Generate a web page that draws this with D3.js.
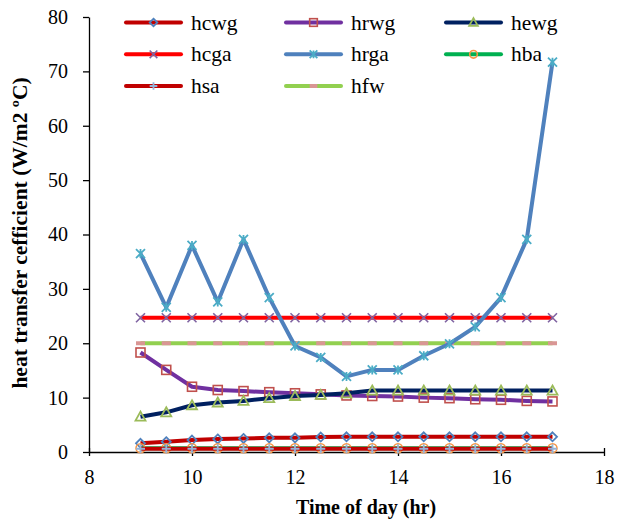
<!DOCTYPE html>
<html><head><meta charset="utf-8">
<script src="https://cdn.jsdelivr.net/npm/d3@7"></script>
<style>body{margin:0;background:#fff}svg{display:block}text{font-family:"Liberation Serif","Times New Roman",serif}</style>
</head><body>
<script>
const hours = [9,9.5,10,10.5,11,11.5,12,12.5,13,13.5,14,14.5,15,15.5,16,16.5,17];
const hcwg = [1.6,1.9,2.2,2.4,2.5,2.6,2.6,2.75,2.8,2.8,2.8,2.8,2.8,2.8,2.8,2.8,2.8];
const hrwg = [18.3,15.1,12.0,11.4,11.2,11.0,10.8,10.6,10.4,10.3,10.2,10.0,9.9,9.7,9.6,9.4,9.3];
const hewg = [6.5,7.3,8.6,9.1,9.4,9.9,10.3,10.5,10.8,11.3,11.3,11.3,11.3,11.3,11.3,11.3,11.3];
const hcga = [24.7,24.7,24.7,24.7,24.7,24.7,24.7,24.7,24.7,24.7,24.7,24.7,24.7,24.7,24.7,24.7,24.7];
const hrga = [36.5,26.6,38.0,27.6,39.1,28.4,19.5,17.4,13.9,15.1,15.1,17.7,19.9,23.0,28.4,39.1,71.7];
const hba  = [0.7,0.7,0.7,0.7,0.7,0.7,0.7,0.7,0.7,0.7,0.7,0.7,0.7,0.7,0.7,0.7,0.7];
const hsa  = [0.6,0.6,0.6,0.6,0.6,0.6,0.6,0.6,0.6,0.6,0.6,0.6,0.6,0.6,0.6,0.6,0.6];
const hfw  = [20,20,20,20,20,20,20,20,20,20,20,20,20,20,20,20,20];
const xTicks = [8,10,12,14,16,18];
const yTicks = [0,10,20,30,40,50,60,70,80];

const series = [
  {name:"hcwg", values:hcwg, line:"#C00000", mk:"diamond", mc:"#4F81BD"},
  {name:"hrwg", values:hrwg, line:"#7030A0", mk:"square", mc:"#C0504D"},
  {name:"hewg", values:hewg, line:"#002060", mk:"triangle", mc:"#9BBB59"},
  {name:"hcga", values:hcga, line:"#FF0000", mk:"x", mc:"#8064A2"},
  {name:"hrga", values:hrga, line:"#4F81BD", mk:"star", mc:"#4BACC6"},
  {name:"hba",  values:hba,  line:"#00B050", mk:"circle", mc:"#F79646"},
  {name:"hsa",  values:hsa,  line:"#C00000", mk:"plus", mc:"#95B3D7"},
  {name:"hfw",  values:hfw,  line:"#92D050", mk:"dash", mc:"#D99694"}
];

const W=620,H=527;
const m={l:89,r:16,t:17,b:75};
const svg=d3.select("body").append("svg").attr("width",W).attr("height",H);
const x=d3.scaleLinear().domain([8,18]).range([m.l,W-m.r]);
const y=d3.scaleLinear().domain([0,80]).range([H-m.b,m.t]);

function marker(g,type,color,cx,cy,k){
  k=k||1; const s=4.5*k;
  if(type==="diamond") g.append("path").attr("d",`M${cx},${cy-s}L${cx+s},${cy}L${cx},${cy+s}L${cx-s},${cy}Z`).attr("fill","none").attr("stroke",color).attr("stroke-width",1.8);
  else if(type==="square") g.append("rect").attr("x",cx-s).attr("y",cy-s).attr("width",2*s).attr("height",2*s).attr("fill","none").attr("stroke",color).attr("stroke-width",1.6);
  else if(type==="triangle") g.append("path").attr("d",`M${cx},${cy-s-0.5}L${cx+s+0.5},${cy+s-0.5}L${cx-s-0.5},${cy+s-0.5}Z`).attr("fill","none").attr("stroke",color).attr("stroke-width",1.8);
  else if(type==="x") g.append("path").attr("d",`M${cx-s},${cy-s}L${cx+s},${cy+s}M${cx-s},${cy+s}L${cx+s},${cy-s}`).attr("stroke",color).attr("stroke-width",1.6);
  else if(type==="star") g.append("path").attr("d",`M${cx-s},${cy-s}L${cx+s},${cy+s}M${cx-s},${cy+s}L${cx+s},${cy-s}M${cx},${cy-s}L${cx},${cy+s}`).attr("stroke",color).attr("stroke-width",1.8);
  else if(type==="circle") g.append("circle").attr("cx",cx).attr("cy",cy).attr("r",s).attr("fill","none").attr("stroke",color).attr("stroke-width",1.6);
  else if(type==="plus") g.append("path").attr("d",`M${cx-s},${cy}L${cx+s},${cy}M${cx},${cy-s}L${cx},${cy+s}`).attr("stroke",color).attr("stroke-width",1.8);
  else if(type==="dash") g.append("path").attr("d",`M${cx-s},${cy}L${cx+s},${cy}`).attr("stroke",color).attr("stroke-width",4);
}

// axes
const xa=svg.append("g").attr("transform",`translate(0,${y(0)})`)
  .call(d3.axisBottom(x).tickValues(xTicks).tickSize(4).tickPadding(14).tickSizeOuter(0));
xa.selectAll(".tick line").attr("y1",-4);
const ya=svg.append("g").attr("transform",`translate(${x(8)},0)`)
  .call(d3.axisLeft(y).tickValues(yTicks).tickSize(6).tickPadding(15).tickSizeOuter(0));
[xa,ya].forEach(a=>{a.select(".domain").attr("stroke","#000").attr("stroke-width",1.3);
  a.selectAll(".tick line").attr("stroke","#000").attr("stroke-width",1.3);
  a.selectAll("text").attr("font-size",20).attr("fill","#000").attr("font-family","Liberation Serif");});

// lines and markers
const line=d3.line().x((d,i)=>x(hours[i])).y(d=>y(d));
const order=["hfw","hcga","hrga","hrwg","hewg","hcwg","hba","hsa"];
order.forEach(n=>{
  const s=series.find(t=>t.name===n);
  const g=svg.append("g");
  g.append("path").datum(s.values).attr("d",line).attr("fill","none").attr("stroke",s.line).attr("stroke-width",4).attr("stroke-linejoin","round");
  s.values.forEach((v,i)=>marker(g,s.mk,s.mc,x(hours[i]),y(v)));
});

// legend
const lx=[126,286,446], ly=[22.5,54.3,86];
series.forEach((s,i)=>{
  const cx=lx[i%3], cy=ly[Math.floor(i/3)];
  const g=svg.append("g");
  g.append("line").attr("x1",cx).attr("x2",cx+55).attr("y1",cy).attr("y2",cy).attr("stroke",s.line).attr("stroke-width",4).attr("stroke-linecap","round");
  marker(g,s.mk,s.mc,cx+27.5,cy,0.85);
  g.append("text").attr("x",cx+65).attr("y",cy+7).attr("font-size",21.5).text(s.name);
});

// titles
svg.append("text").attr("x",366).attr("y",514).attr("text-anchor","middle").attr("font-size",20).attr("font-weight","bold").text("Time of day (hr)");
svg.append("text").attr("transform",`translate(27,233) rotate(-90)`).attr("text-anchor","middle").attr("font-size",21.5).attr("font-weight","bold").text("heat transfer cefficient (W/m2 \u00BAC)");
</script>
</body></html>
